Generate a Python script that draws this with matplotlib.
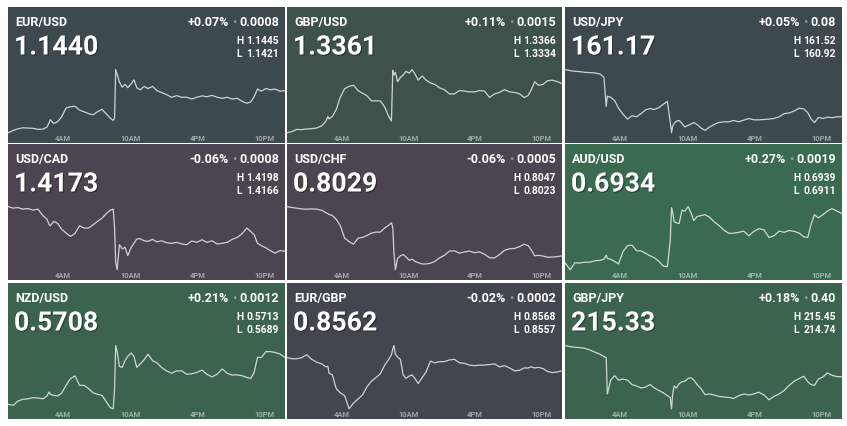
import matplotlib.pyplot as plt
import matplotlib.patheffects as pe

plt.rcParams['font.family'] = ['Roboto', 'DejaVu Sans']

# time of day in hours (shared by all panels)
hours = [-0.87, -0.4, 0.0, 0.45, 0.9, 1.35, 1.8, 2.25, 2.6, 2.8,
         2.9, 3.2, 3.55, 3.9, 4.3, 4.7, 5.1, 5.5, 5.9, 6.3,
         6.7, 7.1, 7.5, 7.9, 8.25, 8.5, 8.62, 8.72, 8.85, 9.05,
         9.3, 9.55, 9.8, 10.1, 10.35, 10.6, 10.9, 11.25, 11.6, 12.0,
         12.4, 12.8, 13.25, 13.7, 14.15, 14.6, 15.05, 15.5, 15.95, 16.4,
         16.85, 17.3, 17.75, 18.2, 18.65, 19.1, 19.55, 20.0, 20.4, 20.75,
         21.05, 21.35, 21.7, 22.1, 22.5, 22.9, 23.35, 23.8]
tick_hours = [4, 10, 16, 22]
tick_labels = ['4AM', '10AM', '4PM', '10PM']

pairs = ['EUR/USD', 'GBP/USD', 'USD/JPY', 'USD/CAD', 'USD/CHF', 'AUD/USD',
         'NZD/USD', 'EUR/GBP', 'GBP/JPY']
last = ['1.1440', '1.3361', '161.17', '1.4173', '0.8029', '0.6934',
        '0.5708', '0.8562', '215.33']
pct = ['+0.07%', '+0.11%', '+0.05%', '-0.06%', '-0.06%', '+0.27%',
       '+0.21%', '-0.02%', '+0.18%']
chg = ['0.0008', '0.0015', '0.08', '0.0008', '0.0005', '0.0019',
       '0.0012', '0.0002', '0.40']
highs = ['1.1445', '1.3366', '161.52', '1.4198', '0.8047', '0.6939',
         '0.5713', '0.8568', '215.45']
lows = ['1.1421', '1.3334', '160.92', '1.4166', '0.8023', '0.6911',
        '0.5689', '0.8557', '214.74']

eur_usd = [1.14210, 1.14219, 1.14225, 1.14229, 1.14228, 1.14227, 1.14223, 1.14224, 1.14232, 1.14249,
           1.14260, 1.14245, 1.14252, 1.14270, 1.14304, 1.14309, 1.14311, 1.14296, 1.14290, 1.14283,
           1.14278, 1.14290, 1.14299, 1.14281, 1.14265, 1.14257, 1.14265, 1.14450, 1.14432, 1.14403,
           1.14383, 1.14394, 1.14381, 1.14396, 1.14411, 1.14381, 1.14373, 1.14386, 1.14378, 1.14386,
           1.14370, 1.14363, 1.14355, 1.14345, 1.14351, 1.14345, 1.14345, 1.14338, 1.14345, 1.14350,
           1.14347, 1.14352, 1.14345, 1.14341, 1.14345, 1.14338, 1.14341, 1.14329, 1.14322, 1.14327,
           1.14347, 1.14376, 1.14368, 1.14378, 1.14373, 1.14376, 1.14368, 1.14370]
gbp_usd = [1.33340, 1.33347, 1.33357, 1.33356, 1.33359, 1.33361, 1.33364, 1.33375, 1.33396, 1.33422,
           1.33410, 1.33422, 1.33457, 1.33517, 1.33561, 1.33573, 1.33578, 1.33552, 1.33538, 1.33526,
           1.33500, 1.33500, 1.33500, 1.33469, 1.33422, 1.33399, 1.33653, 1.33630, 1.33643, 1.33596,
           1.33618, 1.33629, 1.33648, 1.33639, 1.33657, 1.33636, 1.33604, 1.33625, 1.33604, 1.33590,
           1.33582, 1.33566, 1.33556, 1.33535, 1.33535, 1.33552, 1.33549, 1.33545, 1.33545, 1.33552,
           1.33549, 1.33517, 1.33535, 1.33543, 1.33556, 1.33545, 1.33542, 1.33535, 1.33517, 1.33526,
           1.33556, 1.33596, 1.33578, 1.33583, 1.33601, 1.33604, 1.33597, 1.33587]
usd_jpy = [161.520, 161.510, 161.504, 161.500, 161.494, 161.491, 161.488, 161.478, 161.445, 161.170,
           161.267, 161.257, 161.225, 161.153, 161.095, 161.050, 161.082, 161.072, 161.102, 161.137,
           161.150, 161.141, 161.160, 161.192, 161.218, 161.024, 160.920, 160.985, 161.008, 161.030,
           161.037, 161.008, 160.975, 160.991, 161.004, 161.017, 160.998, 160.965, 160.943, 160.975,
           160.998, 161.017, 161.024, 161.024, 161.037, 161.024, 161.040, 161.056, 161.043, 161.043,
           161.046, 161.050, 161.056, 161.072, 161.102, 161.108, 161.128, 161.153, 161.147, 161.111,
           161.050, 161.017, 161.066, 161.056, 161.069, 161.063, 161.072, 161.072]
usd_cad = [1.41980, 1.41972, 1.41975, 1.41967, 1.41970, 1.41962, 1.41967, 1.41933, 1.41916, 1.41888,
           1.41883, 1.41905, 1.41895, 1.41866, 1.41846, 1.41829, 1.41844, 1.41883, 1.41871, 1.41871,
           1.41888, 1.41905, 1.41921, 1.41945, 1.41962, 1.41967, 1.41874, 1.41699, 1.41660, 1.41787,
           1.41766, 1.41774, 1.41732, 1.41774, 1.41794, 1.41816, 1.41817, 1.41807, 1.41804, 1.41814,
           1.41801, 1.41807, 1.41797, 1.41794, 1.41799, 1.41791, 1.41787, 1.41806, 1.41799, 1.41812,
           1.41799, 1.41807, 1.41791, 1.41794, 1.41799, 1.41814, 1.41824, 1.41844, 1.41871, 1.41854,
           1.41838, 1.41794, 1.41782, 1.41771, 1.41757, 1.41744, 1.41757, 1.41754]
usd_chf = [0.80470, 0.80466, 0.80464, 0.80461, 0.80460, 0.80461, 0.80460, 0.80456, 0.80447, 0.80443,
           0.80440, 0.80436, 0.80421, 0.80399, 0.80350, 0.80337, 0.80327, 0.80350, 0.80353, 0.80360,
           0.80369, 0.80373, 0.80373, 0.80389, 0.80399, 0.80408, 0.80391, 0.80298, 0.80230, 0.80273,
           0.80283, 0.80288, 0.80279, 0.80266, 0.80270, 0.80262, 0.80257, 0.80252, 0.80252, 0.80255,
           0.80262, 0.80275, 0.80285, 0.80301, 0.80302, 0.80293, 0.80298, 0.80301, 0.80295, 0.80298,
           0.80289, 0.80276, 0.80275, 0.80288, 0.80304, 0.80310, 0.80311, 0.80318, 0.80327, 0.80322,
           0.80305, 0.80283, 0.80285, 0.80282, 0.80278, 0.80278, 0.80280, 0.80283]
aud_usd = [0.69141, 0.69110, 0.69141, 0.69140, 0.69144, 0.69144, 0.69150, 0.69152, 0.69157, 0.69175,
           0.69160, 0.69157, 0.69147, 0.69136, 0.69191, 0.69217, 0.69219, 0.69194, 0.69194, 0.69183,
           0.69172, 0.69163, 0.69147, 0.69126, 0.69124, 0.69238, 0.69385, 0.69365, 0.69323, 0.69318,
           0.69315, 0.69374, 0.69370, 0.69390, 0.69362, 0.69328, 0.69346, 0.69350, 0.69354, 0.69343,
           0.69323, 0.69308, 0.69287, 0.69272, 0.69272, 0.69276, 0.69281, 0.69261, 0.69280, 0.69292,
           0.69287, 0.69253, 0.69261, 0.69281, 0.69276, 0.69284, 0.69280, 0.69272, 0.69256, 0.69253,
           0.69312, 0.69354, 0.69340, 0.69354, 0.69370, 0.69381, 0.69370, 0.69359]
nzd_usd = [0.56907, 0.56903, 0.56919, 0.56926, 0.56928, 0.56932, 0.56931, 0.56928, 0.56939, 0.56954,
           0.56945, 0.56941, 0.56939, 0.56949, 0.56979, 0.57005, 0.57015, 0.56979, 0.56979, 0.56967,
           0.56951, 0.56945, 0.56941, 0.56916, 0.56894, 0.56890, 0.56964, 0.57130, 0.57107, 0.57051,
           0.57047, 0.57073, 0.57089, 0.57102, 0.57089, 0.57047, 0.57060, 0.57076, 0.57097, 0.57073,
           0.57064, 0.57047, 0.57034, 0.57025, 0.57034, 0.57034, 0.57021, 0.57023, 0.57028, 0.57037,
           0.57021, 0.57011, 0.57021, 0.57041, 0.57025, 0.57018, 0.57019, 0.57015, 0.57009, 0.57005,
           0.57028, 0.57085, 0.57085, 0.57107, 0.57107, 0.57104, 0.57098, 0.57085]
eur_gbp = [0.85659, 0.85657, 0.85657, 0.85659, 0.85664, 0.85656, 0.85651, 0.85648, 0.85643, 0.85644,
           0.85632, 0.85629, 0.85605, 0.85598, 0.85593, 0.85570, 0.85580, 0.85587, 0.85594, 0.85608,
           0.85618, 0.85624, 0.85631, 0.85646, 0.85656, 0.85664, 0.85674, 0.85680, 0.85665, 0.85660,
           0.85656, 0.85629, 0.85623, 0.85627, 0.85629, 0.85623, 0.85614, 0.85624, 0.85634, 0.85653,
           0.85650, 0.85652, 0.85652, 0.85655, 0.85656, 0.85650, 0.85649, 0.85646, 0.85645, 0.85646,
           0.85646, 0.85647, 0.85648, 0.85643, 0.85645, 0.85641, 0.85636, 0.85637, 0.85641, 0.85641,
           0.85643, 0.85641, 0.85642, 0.85640, 0.85635, 0.85633, 0.85634, 0.85636]
gbp_jpy = [215.450, 215.438, 215.431, 215.427, 215.419, 215.400, 215.376, 215.353, 215.326, 215.314,
           214.907, 215.062, 215.112, 215.062, 215.074, 215.062, 215.012, 214.996, 214.973, 214.984,
           215.012, 214.973, 214.946, 214.918, 214.887, 214.868, 214.740, 214.907, 214.996, 214.973,
           215.023, 215.043, 215.050, 215.081, 215.089, 215.062, 215.012, 214.965, 214.899, 214.907,
           214.895, 214.880, 214.872, 214.868, 214.856, 214.887, 214.907, 214.895, 214.907, 214.926,
           214.895, 214.841, 214.880, 214.907, 214.946, 215.004, 215.050, 215.081, 215.105, 215.043,
           215.012, 215.004, 215.074, 215.097, 215.143, 215.116, 215.101, 215.101]

series = [eur_usd, gbp_usd, usd_jpy, usd_cad, usd_chf, aud_usd, nzd_usd, eur_gbp, gbp_jpy]

bg_colors = ['#3e484f', '#3e524b', '#3e484f',
             '#4c4450', '#4c4450', '#3a6a50',
             '#3b634e', '#41464f', '#3c634e']

W, H = 847, 426
fig = plt.figure(figsize=(W / 100, H / 100), dpi=100)
fig.patch.set_facecolor('white')

# panel grid in pixels
col_x = [8, 287, 565]
col_w = [277, 275, 277]
row_y = [7, 144, 283]
row_h = 136

shadow = [pe.SimplePatchShadow(offset=(0.8, -0.8), shadow_rgbFace='black', alpha=0.35), pe.Normal()]

for i in range(9):
    r, c = divmod(i, 3)
    ax = fig.add_axes([col_x[c] / W, 1 - (row_y[r] + row_h) / H, col_w[c] / W, row_h / H])
    ax.set_facecolor(bg_colors[i])
    vals = series[i]
    ax.plot(hours, vals, color=(1, 1, 1, 0.75), lw=0.9)

    # the line uses roughly the lower half of the tile
    lo, hi = min(vals), max(vals)
    span = (hi - lo) / 0.465
    ax.set_ylim(lo - 0.075 * span, lo + 0.925 * span)
    ax.set_xlim(hours[0], hours[-1])
    ax.set_yticks([])
    ax.set_xticks(tick_hours)
    ax.set_xticklabels(tick_labels, fontweight='bold')
    ax.tick_params(axis='x', length=0, pad=-6.0, labelsize=5.4, labelcolor=(1, 1, 1, 0.52))
    for s in ax.spines.values():
        s.set_visible(False)

    ax.annotate(pairs[i], xy=(0, 1), xycoords='axes fraction', xytext=(7, -19),
                textcoords='offset pixels', ha='left', va='baseline',
                fontsize=9, fontweight='bold', color='white')
    ax.annotate(last[i], xy=(0, 1), xycoords='axes fraction', xytext=(6, -47.5),
                textcoords='offset pixels', ha='left', va='baseline',
                fontsize=19.2, fontweight='bold', color='white', path_effects=shadow)

    # change: "+0.07%  •  0.0008", built right to left
    t_chg = ax.annotate(chg[i], xy=(1, 1), xycoords='axes fraction', xytext=(-6, -19),
                        textcoords='offset pixels', ha='right', va='baseline',
                        fontsize=9, fontweight='bold', color='white')
    t_dot = ax.annotate('\u2022', xy=(0, 0.5), xycoords=t_chg, xytext=(-3, 0),
                        textcoords='offset pixels', ha='right', va='center',
                        fontsize=9.5, color=(1, 1, 1, 0.42))
    ax.annotate(pct[i], xy=(0, 0), xycoords=(t_dot, t_chg), xytext=(-3, 0),
                textcoords='offset pixels', ha='right', va='bottom',
                fontsize=9, fontweight='bold', color='white')

    for letter, num, dy in (('H', highs[i], -37.3), ('L', lows[i], -50)):
        ax.annotate(letter, xy=(1, 1), xycoords='axes fraction', xytext=(-49, dy),
                    textcoords='offset pixels', ha='left', va='baseline',
                    fontsize=7.4, fontweight='bold', color='white')
        ax.annotate(num, xy=(1, 1), xycoords='axes fraction', xytext=(-6, dy),
                    textcoords='offset pixels', ha='right', va='baseline',
                    fontsize=7.4, fontweight='bold', color='white')

fig.savefig('out.png', dpi=100, facecolor='white')
